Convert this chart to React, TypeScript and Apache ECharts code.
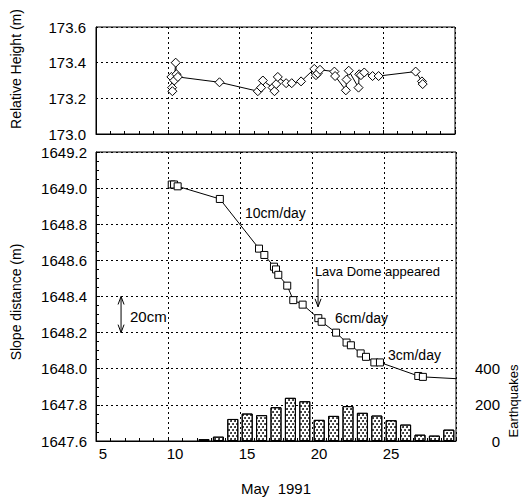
import React, { useEffect, useRef } from "react";
import * as echarts from "echarts";

// Relative height (top panel)
const heightDays = [10.25, 10.3, 10.32, 10.45, 10.55, 10.6, 10.7, 13.6, 16.27, 16.5, 16.62, 17.3, 17.43, 17.55, 17.66, 18.24, 18.63, 19.28, 20.2, 20.32, 20.44, 20.6, 21.6, 21.65, 22.4, 22.45, 22.6, 23.28, 23.33, 23.45, 23.68, 24.26, 24.68, 27.26, 27.7, 27.75];
const heightValues = [173.32, 173.26, 173.24, 173.3, 173.4, 173.335, 173.32, 173.29, 173.24, 173.26, 173.3, 173.26, 173.24, 173.28, 173.32, 173.285, 173.285, 173.295, 173.365, 173.33, 173.34, 173.36, 173.35, 173.325, 173.245, 173.305, 173.355, 173.26, 173.335, 173.33, 173.345, 173.325, 173.325, 173.35, 173.295, 173.28];

// Slope distance (bottom panel)
const slopeDays = [10.26, 10.42, 10.67, 13.6, 16.32, 16.69, 17.36, 17.5, 17.66, 18.28, 18.7, 19.35, 20.44, 20.67, 21.67, 22.4, 22.7, 23.38, 23.75, 24.33, 24.72, 27.38, 27.7, 30];
const slopeValues = [1649.02, 1649.02, 1649.01, 1648.94, 1648.665, 1648.63, 1648.565, 1648.55, 1648.52, 1648.46, 1648.38, 1648.355, 1648.28, 1648.26, 1648.2, 1648.145, 1648.13, 1648.085, 1648.066, 1648.035, 1648.035, 1647.96, 1647.955, 1647.945];

// Daily earthquakes
const quakeDays = [12.5, 13.5, 14.5, 15.5, 16.5, 17.5, 18.5, 19.5, 20.5, 21.5, 22.5, 23.5, 24.5, 25.5, 26.5, 27.5, 28.5, 29.5];
const quakeCounts = [10, 24, 122, 152, 143, 187, 239, 220, 117, 139, 193, 156, 141, 115, 91, 35, 30, 63];

const xTicks = [5, 10, 15, 20, 25];
const quakeTicks = [0, 200, 400];

const FONT = "'Liberation Sans', Arial, Helvetica, sans-serif";
const BLACK = "#000";
const DASH = [2, 3];

export default function App() {
  const ref = useRef<HTMLDivElement>(null);
  useEffect(() => {
    if (!ref.current) return;
    const chart = echarts.init(ref.current, undefined, { renderer: "svg" });
    const splitLine = { show: true, lineStyle: { color: BLACK, type: DASH, width: 1 } };
    const labelStyle = { fontFamily: FONT, fontSize: 15, color: BLACK };
    const option: any = {
      animation: false,
      backgroundColor: "#fff",
      grid: [
        { left: 96, top: 27, width: 359, height: 107, show: true, borderColor: BLACK, borderWidth: 1 },
        { left: 96, top: 152, width: 360, height: 291, show: true, borderColor: BLACK, borderWidth: 1 },
      ],
      xAxis: [
        {
          type: "value", gridIndex: 0, min: 5, max: 30, interval: 5,
          axisLine: { show: true, lineStyle: { color: BLACK } },
          axisTick: { show: true, inside: true, length: 4, lineStyle: { color: BLACK } },
          minorTick: { show: true, splitNumber: 5, length: 3, lineStyle: { color: BLACK } },
          axisLabel: { show: false },
          splitLine,
        },
        {
          type: "value", gridIndex: 1, min: 5, max: 30, interval: 5,
          axisLine: { show: true, lineStyle: { color: BLACK } },
          axisTick: { show: true, inside: true, length: 4, lineStyle: { color: BLACK } },
          minorTick: { show: true, splitNumber: 5, length: 3, lineStyle: { color: BLACK } },
          axisLabel: {
            ...labelStyle, margin: 5, padding: [0, 0, 0, 14],
            formatter: (v: number) => (xTicks.includes(v) ? String(v) : ""),
          },
          splitLine,
          name: "May  1991", nameLocation: "middle", nameGap: 40,
          nameTextStyle: { fontFamily: FONT, fontSize: 15, color: BLACK },
        },
      ],
      yAxis: [
        {
          type: "value", gridIndex: 0, min: 173.0, max: 173.6, interval: 0.2,
          axisLine: { show: true, lineStyle: { color: BLACK } },
          axisTick: { show: false },
          axisLabel: { ...labelStyle, margin: 10, formatter: (v: number) => v.toFixed(1) },
          splitLine,
        },
        {
          type: "value", gridIndex: 1, min: 1647.6, max: 1649.2, interval: 0.2,
          axisLine: { show: true, lineStyle: { color: BLACK } },
          axisTick: { show: true, inside: true, length: 4, lineStyle: { color: BLACK } },
          minorTick: { show: true, splitNumber: 4, length: 3, lineStyle: { color: BLACK } },
          axisLabel: { ...labelStyle, margin: 9, formatter: (v: number) => v.toFixed(1) },
          splitLine,
        },
        {
          type: "value", gridIndex: 1, position: "right", min: 0, max: 1600, interval: 200,
          axisLine: { show: false }, axisTick: { show: false }, splitLine: { show: false },
          axisLabel: {
            ...labelStyle, margin: 44, align: "right",
            formatter: (v: number) => (quakeTicks.includes(v) ? String(v) : ""),
          },
        },
      ],
      series: [
        {
          type: "bar", xAxisIndex: 1, yAxisIndex: 2, barWidth: 11, z: 1,
          data: quakeDays.map((d, i) => [d, quakeCounts[i]]),
          itemStyle: {
            color: "#fff", borderColor: BLACK, borderWidth: 1,
            decal: {
              symbol: "circle", symbolSize: 0.9, color: "#000",
              dashArrayX: [[2, 2], [0, 2, 2, 0]], dashArrayY: [2, 1],
            },
          },
        },
        {
          type: "line", xAxisIndex: 0, yAxisIndex: 0, z: 3,
          data: heightDays.map((d, i) => [d, heightValues[i]]),
          symbol: "diamond", symbolSize: 9, showAllSymbol: true,
          lineStyle: { color: BLACK, width: 1 },
          itemStyle: { color: "#fff", borderColor: BLACK, borderWidth: 1 },
        },
        {
          type: "line", xAxisIndex: 1, yAxisIndex: 1, z: 3,
          data: slopeDays.map((d, i) =>
            i === slopeDays.length - 1 ? { value: [d, slopeValues[i]], symbol: "none" } : [d, slopeValues[i]]
          ),
          symbol: "rect", symbolSize: 7, showAllSymbol: true,
          lineStyle: { color: BLACK, width: 1 },
          itemStyle: { color: "#fff", borderColor: BLACK, borderWidth: 1 },
        },
      ],
    };
    chart.setOption(option);

    const P = (x: number, y: number) =>
      chart.convertToPixel({ xAxisIndex: 1, yAxisIndex: 1 }, [x, y]) as number[];
    const txt = (p: number[], text: string, size = 14, align = "left") => ({
      type: "text", x: p[0], y: p[1],
      style: { text, fontFamily: FONT, fontSize: size, fill: BLACK, textAlign: align, textVerticalAlign: "middle" },
    });
    const lineStyle = { stroke: BLACK, lineWidth: 1, fill: null };
    const a1 = P(20.42, 1648.497);
    const a2 = P(20.42, 1648.343);
    const d1 = P(6.74, 1648.4);
    const d2 = P(6.74, 1648.2);
    const graphic: any[] = [
      txt(P(15.35, 1648.86), "10cm/day"),
      txt(P(20.2, 1648.537), "Lava Dome appeared", 13),
      txt(P(21.6, 1648.28), "6cm/day"),
      txt(P(25.28, 1648.074), "3cm/day"),
      txt(P(7.36, 1648.29), "20cm", 15),
      { type: "line", shape: { x1: a1[0], y1: a1[1], x2: a2[0], y2: a2[1] }, style: lineStyle },
      { type: "polyline", shape: { points: [[a2[0] - 3, a2[1] - 8], [a2[0], a2[1]], [a2[0] + 3, a2[1] - 8]] }, style: lineStyle },
      { type: "line", shape: { x1: d1[0], y1: d1[1], x2: d2[0], y2: d2[1] }, style: lineStyle },
      { type: "polyline", shape: { points: [[d1[0] - 3, d1[1] + 8], [d1[0], d1[1]], [d1[0] + 3, d1[1] + 8]] }, style: lineStyle },
      { type: "polyline", shape: { points: [[d2[0] - 3, d2[1] - 8], [d2[0], d2[1]], [d2[0] + 3, d2[1] - 8]] }, style: lineStyle },
      {
        type: "text", x: 16, y: 69, rotation: Math.PI / 2,
        style: { text: "Relative Height (m)", fontFamily: FONT, fontSize: 14, fill: BLACK, textAlign: "center", textVerticalAlign: "middle" },
      },
      {
        type: "text", x: 16, y: 302, rotation: Math.PI / 2,
        style: { text: "Slope distance (m)", fontFamily: FONT, fontSize: 14, fill: BLACK, textAlign: "center", textVerticalAlign: "middle" },
      },
      {
        type: "text", x: 513, y: 401, rotation: Math.PI / 2,
        style: { text: "Earthquakes", fontFamily: FONT, fontSize: 13, fill: BLACK, textAlign: "center", textVerticalAlign: "middle" },
      },
    ];
    chart.setOption({ graphic });
    return () => chart.dispose();
  }, []);
  return <div ref={ref} style={{ position: "absolute", left: 0, top: 0, width: 523, height: 501 }} />;
}
